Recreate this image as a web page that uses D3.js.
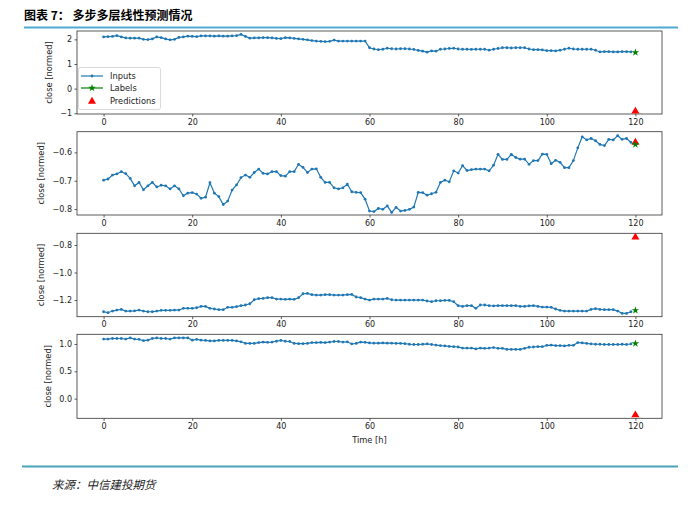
<!DOCTYPE html>
<html><head><meta charset="utf-8">
<script src="https://cdn.jsdelivr.net/npm/d3@7"></script>
<style>body{margin:0;background:#fff} svg{display:block}</style>
</head><body>
<svg id="c" width="700" height="506"></svg>
<script>
// ---------------- data ----------------
const titleText = "图表 7： 多步多层线性预测情况";
const sourceText = "来源：中信建投期货";
const xTickValues = [0, 20, 40, 60, 80, 100, 120];
const labelStep = 120;
const seriesNames = ["Inputs", "Labels", "Predictions"];
const yAxisLabel = "close [normed]";
const xAxisLabel = "Time [h]";

const inputs1 = [
 2.10,2.11,2.12,2.15,2.10,2.06,2.05,2.05,2.05,2.00,
 1.99,2.02,2.10,2.07,2.02,1.98,2.00,2.08,2.10,2.13,
 2.12,2.11,2.14,2.14,2.14,2.13,2.14,2.13,2.13,2.14,
 2.15,2.20,2.12,2.05,2.06,2.06,2.07,2.07,2.06,2.04,
 2.03,2.07,2.06,2.04,2.02,2.00,1.98,1.95,1.93,1.92,
 1.91,1.92,1.97,1.93,1.93,1.93,1.93,1.93,1.93,1.93,
 1.66,1.61,1.58,1.60,1.64,1.62,1.61,1.62,1.62,1.61,
 1.59,1.55,1.52,1.48,1.53,1.52,1.60,1.61,1.63,1.64,
 1.61,1.60,1.60,1.59,1.60,1.60,1.60,1.56,1.60,1.63,
 1.66,1.66,1.65,1.66,1.66,1.66,1.61,1.58,1.58,1.57,
 1.54,1.54,1.53,1.56,1.60,1.64,1.61,1.60,1.60,1.60,
 1.60,1.56,1.49,1.50,1.50,1.49,1.49,1.50,1.50,1.49
];
const inputs2 = [
 -0.698,-0.694,-0.680,-0.676,-0.668,-0.675,-0.692,-0.718,-0.706,-0.732,
 -0.718,-0.706,-0.722,-0.716,-0.718,-0.729,-0.718,-0.729,-0.753,-0.744,
 -0.742,-0.747,-0.762,-0.758,-0.707,-0.744,-0.756,-0.784,-0.772,-0.733,
 -0.715,-0.689,-0.680,-0.688,-0.671,-0.659,-0.674,-0.676,-0.668,-0.668,
 -0.682,-0.684,-0.668,-0.668,-0.642,-0.653,-0.671,-0.659,-0.658,-0.688,
 -0.706,-0.706,-0.725,-0.729,-0.725,-0.712,-0.739,-0.741,-0.742,-0.765,
 -0.807,-0.809,-0.798,-0.801,-0.789,-0.812,-0.794,-0.807,-0.805,-0.801,
 -0.793,-0.741,-0.742,-0.751,-0.746,-0.741,-0.706,-0.698,-0.704,-0.665,
 -0.673,-0.647,-0.664,-0.661,-0.659,-0.659,-0.659,-0.665,-0.645,-0.607,
 -0.625,-0.625,-0.607,-0.618,-0.624,-0.624,-0.642,-0.629,-0.629,-0.606,
 -0.607,-0.640,-0.628,-0.635,-0.654,-0.654,-0.629,-0.584,-0.545,-0.556,
 -0.551,-0.559,-0.572,-0.576,-0.554,-0.556,-0.541,-0.554,-0.551,-0.565
];
const inputs3 = [
 -1.285,-1.292,-1.280,-1.273,-1.268,-1.280,-1.280,-1.278,-1.273,-1.280,
 -1.285,-1.285,-1.280,-1.275,-1.275,-1.275,-1.273,-1.273,-1.260,-1.260,
 -1.260,-1.256,-1.246,-1.246,-1.260,-1.265,-1.270,-1.270,-1.253,-1.253,
 -1.248,-1.241,-1.236,-1.227,-1.198,-1.190,-1.188,-1.183,-1.183,-1.193,
 -1.193,-1.195,-1.193,-1.195,-1.183,-1.154,-1.152,-1.161,-1.164,-1.164,
 -1.161,-1.161,-1.164,-1.164,-1.164,-1.161,-1.159,-1.178,-1.183,-1.193,
 -1.200,-1.193,-1.193,-1.193,-1.188,-1.198,-1.200,-1.200,-1.200,-1.200,
 -1.200,-1.200,-1.200,-1.207,-1.212,-1.205,-1.205,-1.203,-1.203,-1.212,
 -1.241,-1.246,-1.241,-1.241,-1.260,-1.236,-1.236,-1.241,-1.243,-1.241,
 -1.241,-1.241,-1.241,-1.241,-1.246,-1.246,-1.243,-1.241,-1.246,-1.251,
 -1.251,-1.253,-1.265,-1.275,-1.280,-1.280,-1.280,-1.280,-1.280,-1.280,
 -1.268,-1.263,-1.268,-1.270,-1.270,-1.270,-1.280,-1.297,-1.297,-1.285
];
const inputs4 = [
 1.09,1.09,1.10,1.10,1.10,1.09,1.11,1.09,1.085,1.06,
 1.07,1.10,1.11,1.10,1.10,1.09,1.11,1.11,1.11,1.11,
 1.07,1.085,1.07,1.065,1.055,1.055,1.065,1.065,1.065,1.065,
 1.055,1.04,1.01,1.01,1.01,1.025,1.035,1.03,1.035,1.05,
 1.065,1.05,1.045,1.01,1.005,1.005,1.01,1.025,1.025,1.03,
 1.025,1.035,1.045,1.045,1.035,1.04,1.00,1.01,1.035,1.03,
 1.02,1.015,1.015,1.02,1.015,1.015,1.01,1.01,1.005,0.995,
 0.99,0.99,0.995,1.00,0.99,0.98,0.97,0.965,0.955,0.95,
 0.945,0.925,0.925,0.925,0.91,0.925,0.92,0.925,0.935,0.92,
 0.92,0.90,0.90,0.90,0.90,0.92,0.94,0.945,0.95,0.95,
 0.975,0.98,0.97,0.97,0.965,0.975,0.975,1.025,1.02,1.01,
 1.00,0.995,0.995,0.99,0.99,0.99,0.99,0.995,0.99,1.00
];
const labelValues = [1.47, -0.572, -1.275, 1.01];
const predictionValues = [-0.92, -0.565, -0.744, -0.30];
const yTicks1 = [-1, 0, 1, 2];
const yTicks2 = [-0.8, -0.7, -0.6];
const yTicks3 = [-1.2, -1.0, -0.8];
const yTicks4 = [0.0, 0.5, 1.0];

// ---------------- layout ----------------
const panels = [
  {inputs: inputs1, ticks: yTicks1, fmt: "d",   domain: [-1.03, 2.34], top: 31,    bottom: 114},
  {inputs: inputs2, ticks: yTicks2, fmt: ".1f", domain: [-0.821, -0.527], top: 131.7, bottom: 215},
  {inputs: inputs3, ticks: yTicks3, fmt: ".1f", domain: [-1.321, -0.715], top: 233.3, bottom: 316.7},
  {inputs: inputs4, ticks: yTicks4, fmt: ".1f", domain: [-0.36, 1.177], top: 334.3, bottom: 418.3}
];
const left = 77, right = 662;
const blue = "#1f77b4", green = "#008000", red = "#ff0000";
const tickFont = "DejaVu Sans, sans-serif";

const svg = d3.select("#c");
svg.append("rect").attr("width", 700).attr("height", 506).attr("fill", "#fff");

// title
svg.append("text").attr("x", 24).attr("y", 20)
  .attr("font-family", "'Noto Sans CJK SC', sans-serif").attr("font-weight", "bold")
  .attr("font-size", 12).attr("fill", "#000").text(titleText);
svg.append("line").attr("x1", 24).attr("x2", 678).attr("y1", 27.5).attr("y2", 27.5)
  .attr("stroke", "#4ea9d3").attr("stroke-width", 2);

const x = d3.scaleLinear().domain([-6, 126]).range([left, right]);

panels.forEach((p, i) => {
  const y = d3.scaleLinear().domain(p.domain).range([p.bottom, p.top]);
  const g = svg.append("g");

  // x axis
  const xa = g.append("g").attr("transform", `translate(0,${p.bottom})`)
    .call(d3.axisBottom(x).tickValues(xTickValues).tickSize(2.5).tickPadding(2.5).tickFormat(d3.format("d")));
  // y axis
  const ya = g.append("g").attr("transform", `translate(${left},0)`)
    .call(d3.axisLeft(y).tickValues(p.ticks).tickSize(2.5).tickPadding(2.5).tickFormat(d3.format(p.fmt)));
  [xa, ya].forEach(a => {
    a.select(".domain").remove();
    a.selectAll("line").attr("stroke", "#333").attr("stroke-width", 0.8);
    a.selectAll("text").attr("font-family", tickFont).attr("font-size", 8).attr("fill", "#222");
  });

  // frame
  g.append("rect").attr("x", left).attr("y", p.top).attr("width", right - left).attr("height", p.bottom - p.top)
    .attr("fill", "none").attr("stroke", "#333").attr("stroke-width", 0.8);

  // y label placed relative to tick labels
  let minX = left;
  ya.selectAll("text").each(function(){ const b = this.getBBox(); const tx = left - 2.5 - 2.5 - b.width; if (tx < minX) minX = tx; });
  g.append("text").attr("transform", `translate(${minX - 8.5},${(p.top + p.bottom) / 2}) rotate(-90)`)
    .attr("text-anchor", "middle").attr("font-family", tickFont).attr("font-size", 8.3).attr("fill", "#222")
    .text(yAxisLabel);

  // inputs
  const line = d3.line().x((d, k) => x(k)).y(d => y(d));
  g.append("path").datum(p.inputs).attr("d", line).attr("fill", "none")
    .attr("stroke", blue).attr("stroke-width", 1.2);
  g.selectAll("circle.pt").data(p.inputs).join("circle").attr("class", "pt")
    .attr("cx", (d, k) => x(k)).attr("cy", d => y(d)).attr("r", 1.4).attr("fill", blue);

  // predictions (red triangle)
  g.append("path").attr("d", d3.symbol(d3.symbolTriangle, 28)())
    .attr("transform", `translate(${x(labelStep)},${y(predictionValues[i])})`).attr("fill", red);
  // labels (green star)
  g.append("path").attr("d", d3.symbol(d3.symbolStar, 18)())
    .attr("transform", `translate(${x(labelStep)},${y(labelValues[i])})`).attr("fill", green);

  if (i === 0) {
    const lg = g.append("g");
    lg.append("rect").attr("x", 78.5).attr("y", 67.5).attr("width", 82).attr("height", 42).attr("rx", 2)
      .attr("fill", "#fff").attr("fill-opacity", 0.85).attr("stroke", "#d0d0d0").attr("stroke-width", 0.8);
    const ys = [76, 88, 101.5];
    // Inputs
    lg.append("line").attr("x1", 81).attr("x2", 103).attr("y1", ys[0]).attr("y2", ys[0]).attr("stroke", blue).attr("stroke-width", 1.2);
    lg.append("circle").attr("cx", 92).attr("cy", ys[0]).attr("r", 1.4).attr("fill", blue);
    // Labels
    lg.append("line").attr("x1", 81).attr("x2", 103).attr("y1", ys[1]).attr("y2", ys[1]).attr("stroke", green).attr("stroke-width", 1.2);
    lg.append("path").attr("d", d3.symbol(d3.symbolStar, 18)()).attr("transform", `translate(92,${ys[1]})`).attr("fill", green);
    // Predictions
    lg.append("path").attr("d", d3.symbol(d3.symbolTriangle, 28)()).attr("transform", `translate(92,${ys[2]})`).attr("fill", red);
    seriesNames.forEach((n, k) => {
      lg.append("text").attr("x", 110).attr("y", ys[k]).attr("dy", "0.35em")
        .attr("font-family", tickFont).attr("font-size", 8.3).attr("fill", "#222").text(n);
    });
  }

  if (i === panels.length - 1) {
    g.append("text").attr("x", (left + right) / 2).attr("y", 443).attr("text-anchor", "middle")
      .attr("font-family", tickFont).attr("font-size", 8.3).attr("fill", "#222").text(xAxisLabel);
  }
});

// bottom rule and source
svg.append("line").attr("x1", 22).attr("x2", 678).attr("y1", 466.5).attr("y2", 466.5)
  .attr("stroke", "#4ba3b8").attr("stroke-width", 2.2);
svg.append("text").attr("x", 52).attr("y", 489)
  .attr("font-family", "'Noto Sans CJK SC', serif").attr("font-style", "italic")
  .attr("font-size", 11.5).attr("fill", "#222").text(sourceText);
</script>
</body></html>
